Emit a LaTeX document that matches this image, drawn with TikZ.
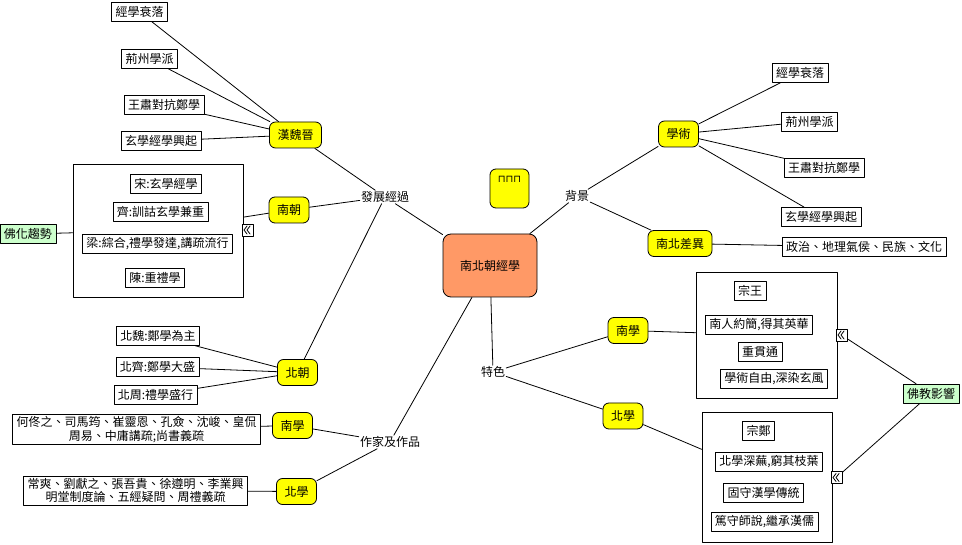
\documentclass[tikz,border=0pt]{standalone}
\usepackage{fontspec}
\usetikzlibrary{positioning}
\newfontfamily\cjk{Noto Sans CJK TC}
\newfontfamily\symfont{DejaVu Sans}
\definecolor{topicyellow}{RGB}{255,255,0}
\definecolor{rootorange}{RGB}{255,153,102}
\definecolor{notegreen}{RGB}{204,255,204}

\begin{document}
\begin{tikzpicture}[x=1pt,y=-1pt,line cap=round,line join=round,
  every node/.style={font=\cjk\fontsize{12}{13.5}\selectfont},
  root/.style={draw,line width=.8pt,fill=rootorange,rounded corners=8pt,
    minimum width=94pt,minimum height=63pt},
  topic/.style={draw,line width=.8pt,fill=topicyellow,rounded corners=6pt,
    inner xsep=8pt,minimum height=26pt},
  leaf/.style={draw,line width=.6pt,fill=white,inner xsep=4pt,inner ysep=2pt,
    minimum height=19pt,align=center},
  branch/.style={inner sep=1pt},
  group/.style={draw,line width=.8pt,fill=white},
  note/.style={draw,line width=.6pt,fill=notegreen,inner xsep=4pt,minimum height=19pt},
  fold/.style={draw,line width=.6pt,fill=white,inner sep=0pt,minimum width=11pt,
    minimum height=12pt},
  link/.style={line width=.8pt}]
\useasboundingbox (0,0) rectangle (962,545);
% 中心與四個分支
\node[root] (root) at (490,265.5) {南北朝經學};
\node[branch] (dev) at (385,197) {發展經過};
\node[branch] (bg) at (577,196) {背景};
\node[branch] (feat) at (493,372) {特色};
\node[branch] (works) at (390,442) {作家及作品};
\node[topic,minimum width=39pt,minimum height=39pt] (blank) at (509.5,188.5) {};
\node[font=\symfont\fontsize{10}{10}\selectfont] (blanktxt) at ([yshift=9pt]blank.center) {⊓⊓⊓};

% 發展經過
\node[topic] (hwj) at (295.5,135) {漢魏晉};
\node[leaf] (hwj1) at (139.5,12) {經學衰落};
\node[leaf] (hwj2) at (149.5,59) {荊州學派};
\node[leaf] (hwj3) at (164,105) {王肅對抗鄭學};
\node[leaf] (hwj4) at (161,141) {玄學經學興起};
\node[topic] (nc) at (289,210) {南朝};
\node[group,minimum width=170pt,minimum height=133pt] (ncbox) at (158,230.5) {};
\node[leaf] (nc1) at (166,184) {宋:玄學經學};
\node[leaf] (nc2) at (160.5,211.5) {齊:訓詁玄學兼重};
\node[leaf] (nc3) at (157.5,243.5) {梁:綜合,禮學發達,講疏流行};
\node[leaf] (nc4) at (155,277.5) {陳:重禮學};
\node[fold] (ncfold) at (247.5,230) {};
\node[note] (fohua) at (28,234) {佛化趨勢};
\node[topic] (bc) at (297.5,372.5) {北朝};
\node[leaf] (bc1) at (158,336) {北魏:鄭學為主};
\node[leaf] (bc2) at (157.5,367) {北齊:鄭學大盛};
\node[leaf] (bc3) at (155.5,395) {北周:禮學盛行};

% 作家及作品
\node[topic] (nxl) at (292.5,425.5) {南學};
\node[leaf] (nxlw) at (136.5,429.5) {何佟之、司馬筠、崔靈恩、孔僉、沈峻、皇侃\\周易、中庸講疏;尚書義疏};
\node[topic] (bxl) at (296.5,491.5) {北學};
\node[leaf] (bxlw) at (135.5,490.5) {常爽、劉獻之、張吾貴、徐遵明、李業興\\明堂制度論、五經疑問、周禮義疏};

% 背景
\node[topic] (xs) at (678.5,134) {學術};
\node[leaf] (xs1) at (800,73) {經學衰落};
\node[leaf] (xs2) at (809.5,121.5) {荊州學派};
\node[leaf] (xs3) at (824,167.5) {王肅對抗鄭學};
\node[leaf] (xs4) at (821,217) {玄學經學興起};
\node[topic] (cy) at (680,243.5) {南北差異};
\node[leaf] (cy1) at (864,247) {政治、地理氣侯、民族、文化};

% 特色
\node[topic] (nxr) at (628,330.5) {南學};
\node[group,minimum width=141pt,minimum height=126pt] (nxbox) at (766.5,335) {};
\node[leaf] (nx1) at (750,291) {宗王};
\node[leaf] (nx2) at (759,325) {南人約簡,得其英華};
\node[leaf] (nx3) at (760,351.5) {重貫通};
\node[leaf] (nx4) at (774,378.5) {學術自由,深染玄風};
\node[fold] (nxfold) at (841.5,335) {};
\node[topic] (bxr) at (623,416) {北學};
\node[group,minimum width=130pt,minimum height=130pt] (bxbox) at (767,477) {};
\node[leaf] (bx1) at (758.5,431) {宗鄭};
\node[leaf] (bx2) at (769,461.5) {北學深蕪,窮其枝葉};
\node[leaf] (bx3) at (763.5,492.5) {固守漢學傳統};
\node[leaf] (bx4) at (764.5,522) {篤守師說,繼承漢儒};
\node[fold] (bxfold) at (836.5,477.5) {};
\node[note] (fojiao) at (931,393.5) {佛教影響};

% 摺疊符號
\foreach \f in {ncfold,nxfold,bxfold}
  \draw[line width=.8pt] ([shift={(-.5,-4)}]\f.center) -- ++(-3,4) -- ++(3,4)
    ([shift={(2.5,-4)}]\f.center) -- ++(-3,4) -- ++(3,4);

% 連線
\draw[link] (root)--(dev) (root)--(bg) (root)--(feat) (root)--(works);
\draw[link] (dev)--(hwj) (dev)--(nc) (dev)--(bc);
\foreach \n in {hwj1,hwj2,hwj3,hwj4} \draw[link] (hwj)--(\n);
\draw[link] (nc)--(ncbox) (fohua)--(ncbox);
\foreach \n in {bc1,bc2,bc3} \draw[link] (bc)--(\n);
\draw[link] (works)--(nxl) (works)--(bxl) (nxl)--(nxlw) (bxl)--(bxlw);
\draw[link] (bg)--(xs) (bg)--(cy) (cy)--(cy1);
\foreach \n in {xs1,xs2,xs3,xs4} \draw[link] (xs)--(\n);
\draw[link] (feat)--(nxr) (feat)--(bxr) (nxr)--(nxbox) (bxr)--(bxbox);
\draw[link] (fojiao)--(nxfold) (fojiao)--(bxfold);
\end{tikzpicture}
\end{document}
